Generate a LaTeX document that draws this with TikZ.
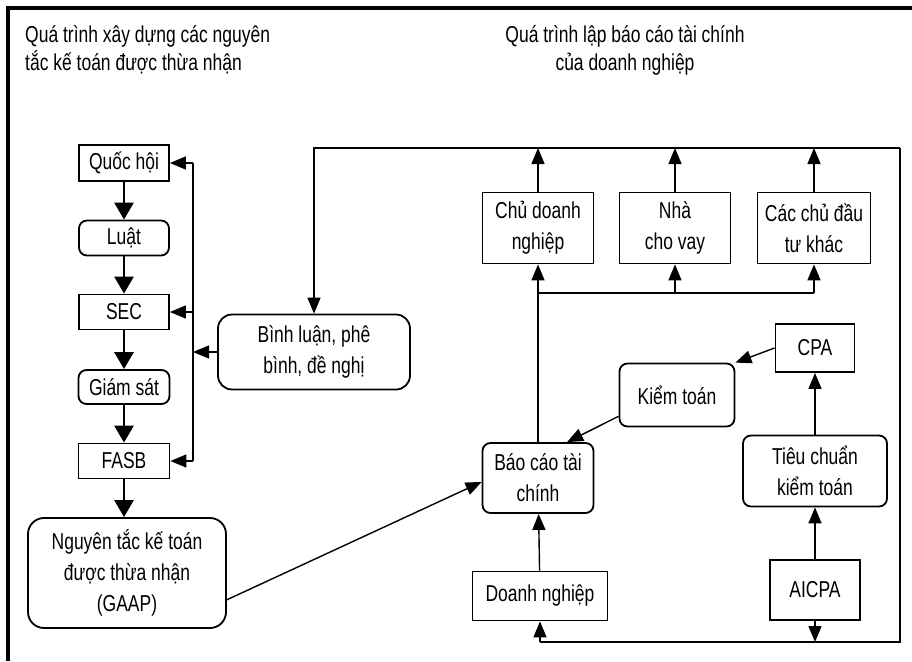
\documentclass[tikz,border=0pt]{standalone}
\usepackage{fontspec}
\setmainfont[FakeStretch=0.76]{Liberation Sans}
\usetikzlibrary{arrows.meta}

\begin{document}
\begin{tikzpicture}[x=1pt, y=-1pt,
  box/.style={draw, line width=1.8pt, inner sep=0pt, align=center,
    font=\fontsize{23}{31}\selectfont},
  rbox/.style={box, rounded corners=8pt},
  conn/.style={line width=1.4pt},
  arr/.style={conn, -{Triangle[length=16pt,width=13pt]}},
  barr/.style={line width=2.8pt, -{Triangle[length=17pt,width=19pt]}},
  title/.style={inner sep=0pt, font=\fontsize{23}{28}\selectfont}]
  \useasboundingbox (0,0) rectangle (912,661);

  % khung
  \draw[line width=4pt] (8,661) -- (8,8) -- (912,8);

  \node[title, align=left, anchor=west] (tleft) at (25,50)
    {Quá trình xây dựng các nguyên\\tắc kế toán được thừa nhận};
  \node[title, align=center] (tright) at (625,50)
    {Quá trình lập báo cáo tài chính\\của doanh nghiệp};

  % cột trái
  \node[box,  minimum width=90pt, minimum height=36pt] (quochoi) at (124,163) {Quốc hội};
  \node[rbox, minimum width=90pt, minimum height=35pt] (luat)    at (124,238) {Luật};
  \node[box,  minimum width=90pt, minimum height=35pt] (sec)     at (124,312) {SEC};
  \node[rbox, minimum width=91pt, minimum height=34pt] (giamsat) at (124,387) {Giám sát};
  \node[box,  minimum width=91pt, minimum height=35pt] (fasb)    at (124,461) {FASB};
  \node[rbox, rounded corners=16pt, minimum width=198pt, minimum height=110pt] (gaap) at (127,573)
    {Nguyên tắc kế toán\\được thừa nhận\\(GAAP)};
  \node[rbox, rounded corners=14pt, minimum width=192pt, minimum height=75pt] (binhluan) at (314,352)
    {Bình luận, phê\\bình, đề nghị};

  % cột phải
  \node[box,  minimum width=111pt, minimum height=71pt] (chudn)  at (538,228) {Chủ doanh\\nghiệp};
  \node[box,  minimum width=111pt, minimum height=71pt] (nhacv)  at (675,228) {Nhà\\cho vay};
  \node[box,  minimum width=113pt, minimum height=71pt] (caccdt) at (814,228) {Các chủ đầu\\tư khác};
  \node[box,  minimum width=79pt,  minimum height=48pt] (cpa)      at (815,348) {CPA};
  \node[rbox, minimum width=115pt, minimum height=63pt] (kiemtoan) at (677,395) {Kiểm toán};
  \node[rbox, minimum width=111pt, minimum height=70pt] (baocao)   at (538,478) {Báo cáo tài\\chính};
  \node[rbox, minimum width=144pt, minimum height=71pt] (tieuchuan) at (815,471) {Tiêu chuẩn\\kiểm toán};
  \node[box,  minimum width=135pt, minimum height=49pt] (doanhnghiep) at (540,596) {Doanh nghiệp};
  \node[box,  minimum width=90pt,  minimum height=60pt] (aicpa)    at (815,590) {AICPA};

  \coordinate (fbtop) at (193,163);
  \coordinate (fbbot) at (193,461);
  \coordinate (topL) at (314,148);
  \coordinate (topR) at (900,148);
  \coordinate (botR) at (900,642);
  \coordinate (busL) at (538,293);
  \coordinate (busR) at (814,293);

  \draw[barr] (quochoi) -- (luat);
  \draw[barr] (luat) -- (sec);
  \draw[barr] (sec) -- (giamsat);
  \draw[barr] (giamsat) -- (fasb);
  \draw[barr] (fasb.south) -- (fasb.south |- gaap.north);

  % phản hồi
  \draw[conn] (fbtop) -- (fbbot);
  \draw[arr] (fbtop) -- (quochoi.east);
  \draw[arr] (sec.east -| fbtop) -- (sec.east);
  \draw[arr] (fbbot) -- (fasb.east);
  \draw[arr] (binhluan.west) -- (binhluan.west -| fbtop);
  \draw[arr] (topR) -- (topL) -- (binhluan.north);

  \draw[arr] (chudn.north) -- (chudn.north |- topR);
  \draw[arr] (nhacv.north) -- (nhacv.north |- topR);
  \draw[arr] (caccdt.north) -- (caccdt.north |- topR);
  \draw[conn] (busL) -- (busR);
  \draw[arr] (baocao.north) -- (chudn.south);
  \draw[arr] (nhacv.south |- busL) -- (nhacv.south);
  \draw[arr] (busR) -- (caccdt.south);

  \draw[arr] (cpa.west) -- (kiemtoan.north east);
  \draw[arr] (kiemtoan.200) -- (baocao.51);
  \draw[arr] (gaap.-15) -- (baocao.184);
  \draw[arr] (tieuchuan) -- (cpa);
  \draw[arr] (aicpa) -- (tieuchuan);
  \draw[arr] (doanhnghiep) -- (baocao);

  \draw[conn] (topR) -- (botR) -- (botR -| doanhnghiep.south);
  \draw[arr] (botR -| doanhnghiep.south) -- (doanhnghiep.south);
  \draw[arr] (aicpa.south) -- (aicpa.south |- botR);
\end{tikzpicture}
\end{document}
